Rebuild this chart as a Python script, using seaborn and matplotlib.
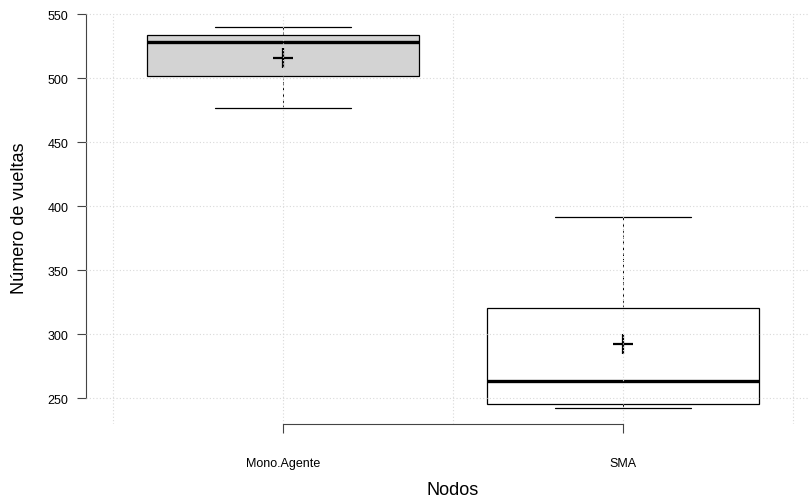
import numpy as np
import pandas as pd
import matplotlib
matplotlib.use("Agg")
from matplotlib import pyplot as plt
import seaborn as sns

# valores (5 corridas por grupo)
nodos = ["Mono.Agente", "SMA"]
vueltas_mono = [476.6, 501.6, 528.4, 533.6, 540.4]
vueltas_sma = [242.2, 245.1, 263.3, 320.3, 391.2]
colores = ["#d3d3d3", "#ffffff"]
yticks = [250, 300, 350, 400, 450, 500, 550]

df = pd.DataFrame({
    "Nodos": [nodos[0]] * len(vueltas_mono) + [nodos[1]] * len(vueltas_sma),
    "vueltas": vueltas_mono + vueltas_sma,
})

sns.set_style("white")
plt.rcParams["font.family"] = ["Liberation Sans", "DejaVu Sans"]
plt.rcParams["text.color"] = "black"
plt.rcParams["axes.labelcolor"] = "black"
plt.rcParams["xtick.labelcolor"] = "black"
plt.rcParams["ytick.labelcolor"] = "black"

fig = plt.figure(figsize=(8.09, 5.02), dpi=100)
ax = fig.add_axes([0.1063, 0.1534, 0.907, 0.822])

sns.boxplot(data=df, x="Nodos", y="vueltas", hue="Nodos", palette=colores,
            legend=False, saturation=1, width=0.8, linecolor="black",
            linewidth=0.9, showmeans=True, ax=ax,
            meanprops=dict(marker="+", markeredgecolor="black",
                           markersize=15, markeredgewidth=1.6),
            medianprops=dict(color="black", linewidth=2.4),
            whiskerprops=dict(linestyle=(0, (3, 3)), linewidth=0.7),
            capprops=dict(linewidth=0.9))

ax.set_xlim(-0.58, 1.58)
ax.set_ylim(229.7, 552.3)

# rejilla punteada por encima de las cajas (como grid() en R)
for yv in yticks:
    ax.axhline(yv, color="#d9d9d9", linestyle=(0, (1, 2)), linewidth=0.8, zorder=5)
for xv in [-0.5, 0, 0.5, 1, 1.5]:
    ax.vlines(xv, 229.7, 550, color="#d9d9d9", linestyle=(0, (1, 2)),
              linewidth=0.8, zorder=5)

ax.set_yticks(yticks)
ax.set_xticks([0, 1])
ax.set_xticklabels(nodos)
ax.tick_params(axis="y", length=6.5, width=0.8, pad=6, labelsize=9, left=True,
               color="#444444")
ax.tick_params(axis="x", length=6.5, width=0.8, pad=17, labelsize=9, bottom=True,
               color="#444444")

for s in ["top", "right"]:
    ax.spines[s].set_visible(False)
ax.spines["left"].set_bounds(250, 550)
ax.spines["bottom"].set_bounds(0, 1)
for s in ["left", "bottom"]:
    ax.spines[s].set_linewidth(0.8)
    ax.spines[s].set_color("#444444")

ax.set_xlabel("Nodos", fontsize=13, labelpad=9)
ax.set_ylabel("Número de vueltas", fontsize=13, labelpad=14)

fig.savefig("out.png", dpi=100)
